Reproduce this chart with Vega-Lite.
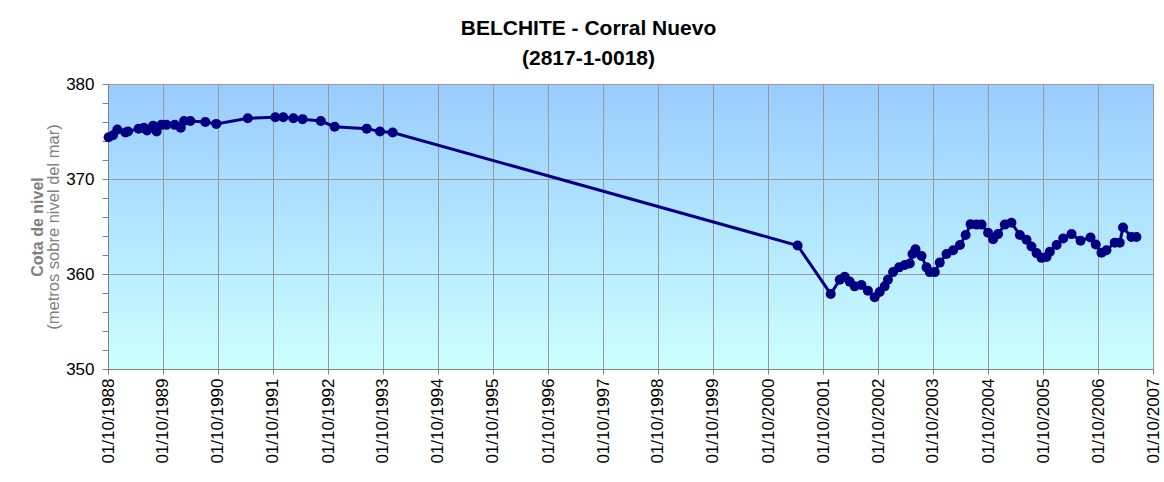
{
  "$schema": "https://vega.github.io/schema/vega-lite/v6.json",
  "width": 1045,
  "height": 285,
  "autosize": {"type": "none"},
  "padding": {"left": 108, "top": 84, "right": 11, "bottom": 113},
  "background": "#FFFFFF",
  "title": {
    "text": ["BELCHITE - Corral Nuevo", "(2817-1-0018)"],
    "font": "Liberation Sans",
    "fontSize": 21,
    "fontWeight": "bold",
    "color": "#000000",
    "lineHeight": 30,
    "anchor": "middle",
    "dx": -42,
    "offset": 6
  },
  "config": {
    "view": {
      "stroke": null,
      "fill": {
        "gradient": "linear",
        "x1": 0, "y1": 0, "x2": 0, "y2": 1,
        "stops": [
          {"offset": 0, "color": "#99CCFF"},
          {"offset": 1, "color": "#CCFFFF"}
        ]
      }
    },
    "axis": {
      "labelFont": "Liberation Sans",
      "titleFont": "Liberation Sans",
      "labelFontSize": 17,
      "labelColor": "#000000",
      "domainColor": "#808080",
      "tickColor": "#808080",
      "gridColor": "#999999",
      "gridWidth": 1
    }
  },
  "data": {
    "values": [
      {"date": "1988-10-05", "cota": 374.4},
      {"date": "1988-11-03", "cota": 374.6},
      {"date": "1988-12-02", "cota": 375.2},
      {"date": "1989-01-25", "cota": 374.9},
      {"date": "1989-02-11", "cota": 375.0},
      {"date": "1989-04-22", "cota": 375.3},
      {"date": "1989-05-28", "cota": 375.4},
      {"date": "1989-06-17", "cota": 375.1},
      {"date": "1989-07-27", "cota": 375.6},
      {"date": "1989-08-20", "cota": 375.0},
      {"date": "1989-09-21", "cota": 375.7},
      {"date": "1989-10-24", "cota": 375.7},
      {"date": "1989-12-18", "cota": 375.7},
      {"date": "1990-01-27", "cota": 375.4},
      {"date": "1990-02-18", "cota": 376.1},
      {"date": "1990-04-01", "cota": 376.1},
      {"date": "1990-07-09", "cota": 376.0},
      {"date": "1990-09-20", "cota": 375.8},
      {"date": "1991-04-17", "cota": 376.4},
      {"date": "1991-10-17", "cota": 376.5},
      {"date": "1991-12-09", "cota": 376.5},
      {"date": "1992-02-14", "cota": 376.4},
      {"date": "1992-04-15", "cota": 376.3},
      {"date": "1992-08-14", "cota": 376.1},
      {"date": "1992-11-14", "cota": 375.5},
      {"date": "1993-06-15", "cota": 375.3},
      {"date": "1993-09-11", "cota": 375.0},
      {"date": "1993-12-04", "cota": 374.9},
      {"date": "2001-04-15", "cota": 363.0},
      {"date": "2001-11-21", "cota": 357.9},
      {"date": "2002-01-20", "cota": 359.4},
      {"date": "2002-02-22", "cota": 359.7},
      {"date": "2002-03-27", "cota": 359.2},
      {"date": "2002-04-29", "cota": 358.7},
      {"date": "2002-06-13", "cota": 358.85},
      {"date": "2002-07-26", "cota": 358.25},
      {"date": "2002-09-09", "cota": 357.55},
      {"date": "2002-10-12", "cota": 358.1},
      {"date": "2002-11-14", "cota": 358.7},
      {"date": "2002-12-06", "cota": 359.4},
      {"date": "2003-01-09", "cota": 360.2},
      {"date": "2003-02-18", "cota": 360.7},
      {"date": "2003-03-28", "cota": 360.95},
      {"date": "2003-04-30", "cota": 361.1},
      {"date": "2003-05-18", "cota": 362.1},
      {"date": "2003-06-07", "cota": 362.6},
      {"date": "2003-07-17", "cota": 361.9},
      {"date": "2003-08-19", "cota": 360.7},
      {"date": "2003-09-10", "cota": 360.2},
      {"date": "2003-10-13", "cota": 360.2},
      {"date": "2003-11-15", "cota": 361.2},
      {"date": "2003-12-30", "cota": 362.1},
      {"date": "2004-02-12", "cota": 362.5},
      {"date": "2004-03-28", "cota": 363.05},
      {"date": "2004-05-05", "cota": 364.1},
      {"date": "2004-06-07", "cota": 365.25},
      {"date": "2004-07-17", "cota": 365.2},
      {"date": "2004-08-19", "cota": 365.2},
      {"date": "2004-10-01", "cota": 364.35},
      {"date": "2004-11-03", "cota": 363.65},
      {"date": "2004-12-06", "cota": 364.2},
      {"date": "2005-01-20", "cota": 365.2},
      {"date": "2005-03-05", "cota": 365.4},
      {"date": "2005-04-30", "cota": 364.1},
      {"date": "2005-06-13", "cota": 363.6},
      {"date": "2005-07-16", "cota": 362.9},
      {"date": "2005-08-19", "cota": 362.2},
      {"date": "2005-09-21", "cota": 361.7},
      {"date": "2005-10-24", "cota": 361.8},
      {"date": "2005-11-15", "cota": 362.35},
      {"date": "2005-12-30", "cota": 363.05},
      {"date": "2006-02-12", "cota": 363.75},
      {"date": "2006-04-08", "cota": 364.2},
      {"date": "2006-06-07", "cota": 363.5},
      {"date": "2006-08-12", "cota": 363.85},
      {"date": "2006-09-16", "cota": 363.1},
      {"date": "2006-10-24", "cota": 362.25},
      {"date": "2006-11-26", "cota": 362.5},
      {"date": "2007-01-20", "cota": 363.3},
      {"date": "2007-02-22", "cota": 363.3},
      {"date": "2007-03-16", "cota": 364.9},
      {"date": "2007-05-11", "cota": 363.9},
      {"date": "2007-06-13", "cota": 363.9}
    ]
  },
  "encoding": {
    "x": {
      "field": "date",
      "type": "temporal",
      "scale": {
        "type": "utc",
        "domain": [
          {"year": 1988, "month": 10, "date": 1, "utc": true},
          {"year": 2007, "month": 10, "date": 1, "utc": true}
        ]
      },
      "axis": {
        "title": null,
        "labelExpr": "utcFormat(datum.value, '%d/%m/%Y')",
        "values": [
          {"year": 1988, "month": 10, "date": 1, "utc": true},
          {"year": 1989, "month": 10, "date": 1, "utc": true},
          {"year": 1990, "month": 10, "date": 1, "utc": true},
          {"year": 1991, "month": 10, "date": 1, "utc": true},
          {"year": 1992, "month": 10, "date": 1, "utc": true},
          {"year": 1993, "month": 10, "date": 1, "utc": true},
          {"year": 1994, "month": 10, "date": 1, "utc": true},
          {"year": 1995, "month": 10, "date": 1, "utc": true},
          {"year": 1996, "month": 10, "date": 1, "utc": true},
          {"year": 1997, "month": 10, "date": 1, "utc": true},
          {"year": 1998, "month": 10, "date": 1, "utc": true},
          {"year": 1999, "month": 10, "date": 1, "utc": true},
          {"year": 2000, "month": 10, "date": 1, "utc": true},
          {"year": 2001, "month": 10, "date": 1, "utc": true},
          {"year": 2002, "month": 10, "date": 1, "utc": true},
          {"year": 2003, "month": 10, "date": 1, "utc": true},
          {"year": 2004, "month": 10, "date": 1, "utc": true},
          {"year": 2005, "month": 10, "date": 1, "utc": true},
          {"year": 2006, "month": 10, "date": 1, "utc": true},
          {"year": 2007, "month": 10, "date": 1, "utc": true}
        ],
        "labelAngle": 270,
        "labelAlign": "right",
        "labelBaseline": "middle",
        "labelPadding": 4,
        "labelOverlap": false,
        "labelFlush": false,
        "tickSize": 5,
        "grid": true
      }
    }
  },
  "layer": [
    {
      "mark": {"type": "line", "color": "#000080", "strokeWidth": 3},
      "encoding": {
        "y": {
          "field": "cota",
          "type": "quantitative",
          "scale": {"domain": [350, 380], "nice": false, "zero": false},
          "axis": {
            "orient": "left",
            "values": [350, 352, 354, 356, 358, 360, 362, 364, 366, 368, 370, 372, 374, 376, 378, 380],
            "labelExpr": "datum.value % 10 === 0 ? datum.label : ''",
            "grid": true,
            "gridOpacity": {"condition": {"test": "datum.value % 10 === 0", "value": 1}, "value": 0},
            "tickSize": 6,
            "labelPadding": 8,
            "title": "(metros sobre nivel del mar)",
            "titleColor": "#808080",
            "titleFontWeight": "normal",
            "titleFontSize": 16.5,
            "titlePadding": 4
          }
        }
      }
    },
    {
      "mark": {"type": "point", "filled": true, "color": "#000080", "size": 100, "opacity": 1},
      "encoding": {
        "y": {
          "field": "cota",
          "type": "quantitative",
          "axis": {
            "orient": "left",
            "labels": false,
            "ticks": false,
            "domain": false,
            "grid": false,
            "title": "Cota de nivel",
            "titleColor": "#808080",
            "titleFontWeight": "bold",
            "titleFontSize": 16,
            "titlePadding": 63
          }
        }
      }
    }
  ],
  "resolve": {"axis": {"y": "independent"}}
}
